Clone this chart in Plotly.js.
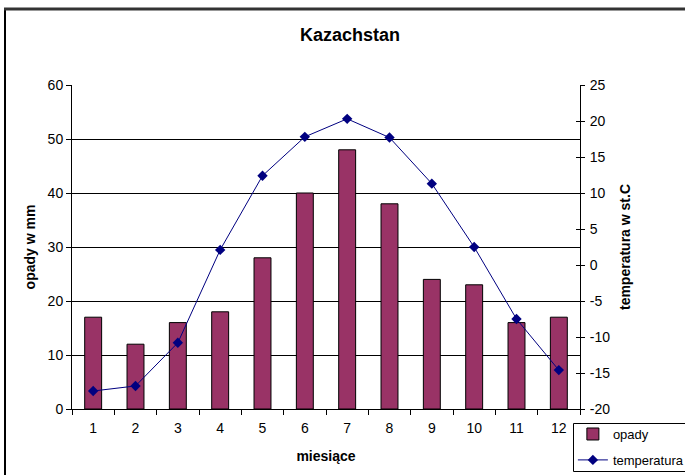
<!DOCTYPE html>
<html>
<head>
<meta charset="utf-8">
<script src="https://cdn.plot.ly/plotly-3.0.1.min.js"></script>
<style>html,body{margin:0;padding:0;background:#fff;}#chart{width:685px;height:475px;}</style>
</head>
<body>
<div id="chart"></div>
<script>
var months = ["1","2","3","4","5","6","7","8","9","10","11","12"];
var opady = [17, 12, 16, 18, 28, 40, 48, 38, 24, 23, 16, 17];
var temperatura = [-17.5, -16.8, -10.8, 2.1, 12.4, 17.8, 20.3, 17.7, 11.3, 2.5, -7.5, -14.6];
var tempTickVals = [-20, -15, -10, -5, 0, 5, 10, 15, 20, 25];
var tempTickText = ["-20", "-15", "-10", "-5", "0", "5", "10", "15", "20", "25"];

var font = "Arial, 'Liberation Sans', sans-serif";

var traces = [
  {
    type: "bar", name: "opady", x: months, y: opady, yaxis: "y",
    marker: {color: "#993366", line: {color: "#000000", width: 1}},
    legendgroup: "a"
  },
  {
    type: "scatter", mode: "lines+markers", name: "temperatura", x: months, y: temperatura, yaxis: "y2",
    line: {color: "#000080", width: 1},
    marker: {symbol: "diamond", size: 8, color: "#000080"},
    legendgroup: "b"
  },
  {
    type: "scatter", mode: "none", x: [], y: [], yaxis: "y3", showlegend: false, hoverinfo: "skip"
  }
];

var layout = {
  width: 685, height: 475,
  paper_bgcolor: "#ffffff", plot_bgcolor: "#ffffff",
  margin: {l: 72, r: 105, t: 85, b: 66, autoexpand: false},
  font: {family: font, size: 12, color: "#000000"},
  title: {text: "<b>Kazachstan</b>", font: {family: font, size: 18, color: "#000"},
          xref: "container", x: 0.511, y: 0.926, yanchor: "middle", xanchor: "center"},
  bargap: 0.6,
  xaxis: {
    type: "category", range: [-0.5, 11.5], tickson: "boundaries",
    ticks: "outside", ticklen: 5, tickcolor: "#000", tickwidth: 1,
    showline: true, linecolor: "#000", linewidth: 1, showgrid: false, zeroline: false,
    tickfont: {size: 14}, ticklabelstandoff: 6,
    title: {text: "<b>miesiące</b>", font: {size: 14}, standoff: 16}
  },
  yaxis: {
    range: [0, 60], dtick: 10, tick0: 0,
    ticks: "outside", ticklen: 5, tickcolor: "#000",
    showline: true, linecolor: "#000", linewidth: 1,
    showgrid: true, gridcolor: "#000", gridwidth: 1, zeroline: false,
    tickfont: {size: 14},
    title: {text: "<b>opady w mm</b>", font: {size: 14}, standoff: 8}
  },
  yaxis2: {
    overlaying: "y", side: "right", anchor: "x",
    range: [-20, 25], tickmode: "array", tickvals: tempTickVals, ticktext: tempTickText,
    ticks: "outside", ticklen: 4, tickcolor: "#000",
    showline: true, linecolor: "#000", linewidth: 1,
    showgrid: false, zeroline: false,
    tickfont: {size: 14}, ticklabelstandoff: 2,
    title: {text: "<b>temperatura w st.C</b>", font: {size: 14}, standoff: 10}
  },
  yaxis3: {
    overlaying: "y", side: "right", anchor: "x",
    range: [-20, 25], tickmode: "array", tickvals: tempTickVals,
    ticks: "inside", ticklen: 4, tickcolor: "#000",
    showline: false, showgrid: false, zeroline: false, showticklabels: false
  },
  legend: {
    x: 0.986, y: -0.031, xanchor: "left", yanchor: "top",
    bgcolor: "rgba(0,0,0,0)", borderwidth: 0,
    font: {size: 13}, traceorder: "grouped", tracegroupgap: 6
  },
  shapes: [
    {type: "line", xref: "paper", yref: "paper", x0: (5 - 72) / 508, x1: (5 - 72) / 508,
     y0: (409 - 9) / 324, y1: (409 - 480) / 324, line: {color: "#000", width: 2}},
    {type: "line", xref: "paper", yref: "paper", x0: (4 - 72) / 508, x1: (690 - 72) / 508,
     y0: (409 - 9) / 324, y1: (409 - 9) / 324, line: {color: "#333", width: 3}},
    {type: "rect", xref: "paper", yref: "paper", x0: (573.5 - 72) / 508, x1: (700 - 72) / 508,
     y0: (409 - 423.5) / 324, y1: (409 - 471.5) / 324, line: {color: "#000", width: 1}}
  ],
  showlegend: true
};

Plotly.newPlot("chart", traces, layout, {staticPlot: true, displayModeBar: false});
</script>
</body>
</html>
